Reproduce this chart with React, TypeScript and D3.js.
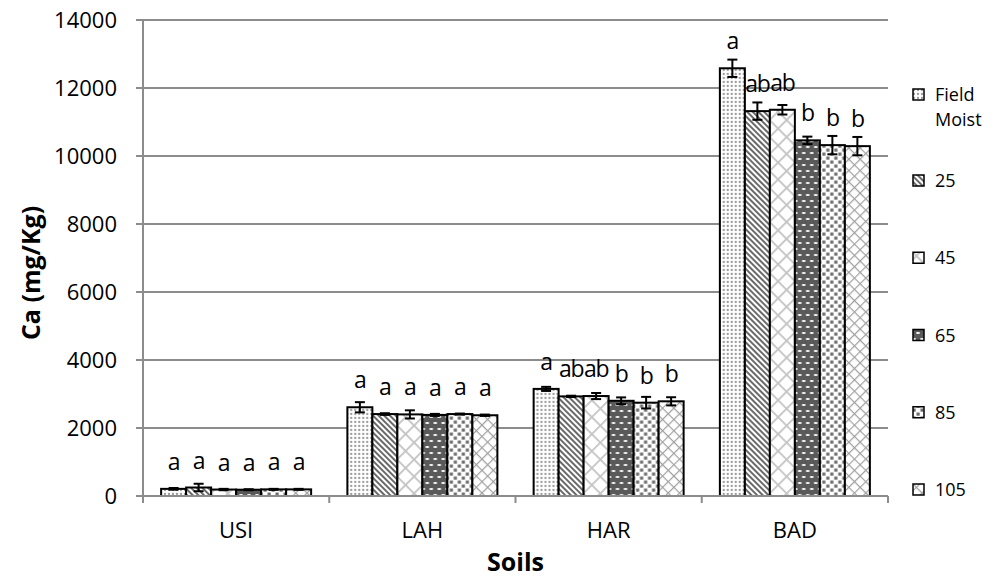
import React from 'react';
import * as d3 from 'd3';

const soils = ['USI', 'LAH', 'HAR', 'BAD'];
const seriesNames = ['Field Moist', '25', '45', '65', '85', '105'];
const legendLines = [['Field', 'Moist'], ['25'], ['45'], ['65'], ['85'], ['105']];
const yTicks = [0, 2000, 4000, 6000, 8000, 10000, 12000, 14000];

// values per series, ordered as soils
const fieldMoist = [210, 2610, 3150, 12580];
const moist25 = [250, 2410, 2930, 11320];
const moist45 = [190, 2400, 2940, 11360];
const moist65 = [185, 2385, 2800, 10460];
const moist85 = [195, 2410, 2745, 10320];
const moist105 = [195, 2375, 2785, 10290];

const errFieldMoist = [25, 150, 60, 255];
const err25 = [110, 25, 20, 255];
const err45 = [20, 120, 90, 140];
const err65 = [15, 30, 100, 110];
const err85 = [15, 15, 170, 270];
const err105 = [15, 20, 120, 270];

const letFieldMoist = ['a', 'a', 'a', 'a'];
const let25 = ['a', 'a', 'ab', 'ab'];
const let45 = ['a', 'a', 'ab', 'ab'];
const let65 = ['a', 'a', 'b', 'b'];
const let85 = ['a', 'a', 'b', 'b'];
const let105 = ['a', 'a', 'b', 'b'];

const seriesValues = [fieldMoist, moist25, moist45, moist65, moist85, moist105];
const seriesErrors = [errFieldMoist, err25, err45, err65, err85, err105];
const seriesLetters = [letFieldMoist, let25, let45, let65, let85, let105];

const W = 1001;
const H = 578;
const M = { left: 143, right: 888, top: 20, bottom: 496 };
const FONT = '"Open Sans", "Liberation Sans", sans-serif';

export default function App() {
  const x0 = d3.scaleBand<string>().domain(soils).range([M.left, M.right]).paddingInner(0).paddingOuter(0);
  const x1 = d3
    .scaleBand<string>()
    .domain(seriesNames)
    .range([0, x0.bandwidth()])
    .paddingInner(0)
    .paddingOuter(0.725);
  const y = d3.scaleLinear().domain([0, 14000]).range([M.bottom, M.top]);

  const grid = '#8c8c8c';
  const patIds = ['pFM', 'p25', 'p45', 'p65', 'p85', 'p105'];

  const legendY = (i: number) => (i === 0 ? 101 : 187 + (i - 1) * 77.25);

  return (
    <svg width={W} height={H} style={{ position: 'absolute', left: 0, top: 0, background: '#fff' }} fontFamily={FONT}>
      <defs>
        <pattern id="pFM" width="4" height="4" patternUnits="userSpaceOnUse">
          <rect width="4" height="4" fill="#fff" />
          <circle cx="2" cy="2" r="1.15" fill="#9a9a9a" />
        </pattern>
        <pattern id="p25" width="4" height="4" patternUnits="userSpaceOnUse" patternTransform="rotate(-45)">
          <rect width="4" height="4" fill="#fff" />
          <rect width="2" height="4" fill="#6a6a6a" />
        </pattern>
        <pattern id="p45" width="12" height="12" patternUnits="userSpaceOnUse" patternTransform="rotate(45)">
          <rect width="12" height="12" fill="#fff" />
          <rect width="1.8" height="12" fill="#c4c4c4" />
          <rect width="12" height="1.8" fill="#c4c4c4" />
        </pattern>
        <pattern id="p65" width="8" height="12" patternUnits="userSpaceOnUse">
          <rect width="8" height="12" fill="#5a5a5a" />
          <ellipse cx="2" cy="3" rx="2" ry="1" fill="#fff" />
          <ellipse cx="6" cy="9" rx="2" ry="1" fill="#fff" />
        </pattern>
        <pattern id="p85" width="8" height="8" patternUnits="userSpaceOnUse">
          <rect width="8" height="8" fill="#fff" />
          <rect x="0.5" y="0.5" width="3.2" height="3.2" fill="#6e6e6e" />
          <rect x="4.5" y="4.5" width="3.2" height="3.2" fill="#6e6e6e" />
        </pattern>
        <pattern id="p105" width="8" height="8" patternUnits="userSpaceOnUse" patternTransform="rotate(45)">
          <rect width="8" height="8" fill="#fff" />
          <rect width="1.2" height="8" fill="#a0a0a0" />
          <rect width="8" height="1.2" fill="#a0a0a0" />
        </pattern>
      </defs>

      {/* gridlines and y ticks */}
      {yTicks.map((t) => (
        <g key={t}>
          <line x1={M.left - 7} x2={t === 0 ? M.left : M.right} y1={y(t)} y2={y(t)} stroke={grid} strokeWidth={2} />
          <text x={117} y={y(t)} dy="0.36em" textAnchor="end" fontSize={22} fill="#000">
            {t}
          </text>
        </g>
      ))}

      {/* bars */}
      {soils.map((s, ci) => (
        <g key={s} transform={`translate(${x0(s)},0)`}>
          {seriesNames.map((n, si) => {
            const v = seriesValues[si][ci];
            return (
              <rect
                key={n}
                x={x1(n)}
                y={y(v)}
                width={x1.bandwidth()}
                height={y(0) - y(v)}
                fill={`url(#${patIds[si]})`}
                stroke="#000"
                strokeWidth={2}
              />
            );
          })}
        </g>
      ))}

      {/* axes */}
      <line x1={M.left} x2={M.left} y1={M.top} y2={M.bottom + 7} stroke={grid} strokeWidth={2} />
      <line x1={M.left} x2={M.right} y1={M.bottom} y2={M.bottom} stroke={grid} strokeWidth={2} />
      {soils.map((s) => (
        <line key={'t' + s} x1={(x0(s) as number) + x0.bandwidth()} x2={(x0(s) as number) + x0.bandwidth()} y1={M.bottom} y2={M.bottom + 7} stroke={grid} strokeWidth={2} />
      ))}

      {/* error bars and letters */}
      {soils.map((s, ci) => (
        <g key={'e' + s} transform={`translate(${x0(s)},0)`}>
          {seriesNames.map((n, si) => {
            const v = seriesValues[si][ci];
            const e = seriesErrors[si][ci];
            const cx = (x1(n) as number) + x1.bandwidth() / 2;
            return (
              <g key={n}>
                <line x1={cx} x2={cx} y1={y(v + e)} y2={y(v - e)} stroke="#000" strokeWidth={2} />
                <line x1={cx - 5} x2={cx + 5} y1={y(v + e)} y2={y(v + e)} stroke="#000" strokeWidth={2} />
                <line x1={cx - 5} x2={cx + 5} y1={y(v - e)} y2={y(v - e)} stroke="#000" strokeWidth={2} />
                <text x={cx} y={y(v) - 19} textAnchor="middle" fontSize={23} letterSpacing={-1.2} fill="#000">
                  {seriesLetters[si][ci]}
                </text>
              </g>
            );
          })}
        </g>
      ))}

      {/* category labels */}
      {soils.map((s) => (
        <text key={'c' + s} x={(x0(s) as number) + x0.bandwidth() / 2} y={538} textAnchor="middle" fontSize={22} fill="#000">
          {s}
        </text>
      ))}

      {/* axis titles */}
      <text x={(M.left + M.right) / 2} y={571} textAnchor="middle" fontSize={25} fontWeight="bold" fill="#000">
        Soils
      </text>
      <text
        transform={`translate(40,${(M.top + M.bottom) / 2 + 15}) rotate(-90)`}
        textAnchor="middle"
        fontSize={25}
        fontWeight="bold"
        fill="#000"
      >
        Ca (mg/Kg)
      </text>

      {/* legend */}
      {seriesNames.map((n, i) => (
        <g key={'l' + n}>
          <rect x={913} y={legendY(i) - 12} width={11} height={11} fill={`url(#${patIds[i]})`} stroke="#000" strokeWidth={1.5} />
          {legendLines[i].map((ln, li) => (
            <text key={ln} x={935} y={legendY(i) + li * 25} fontSize={18} fill="#000">
              {ln}
            </text>
          ))}
        </g>
      ))}
    </svg>
  );
}
